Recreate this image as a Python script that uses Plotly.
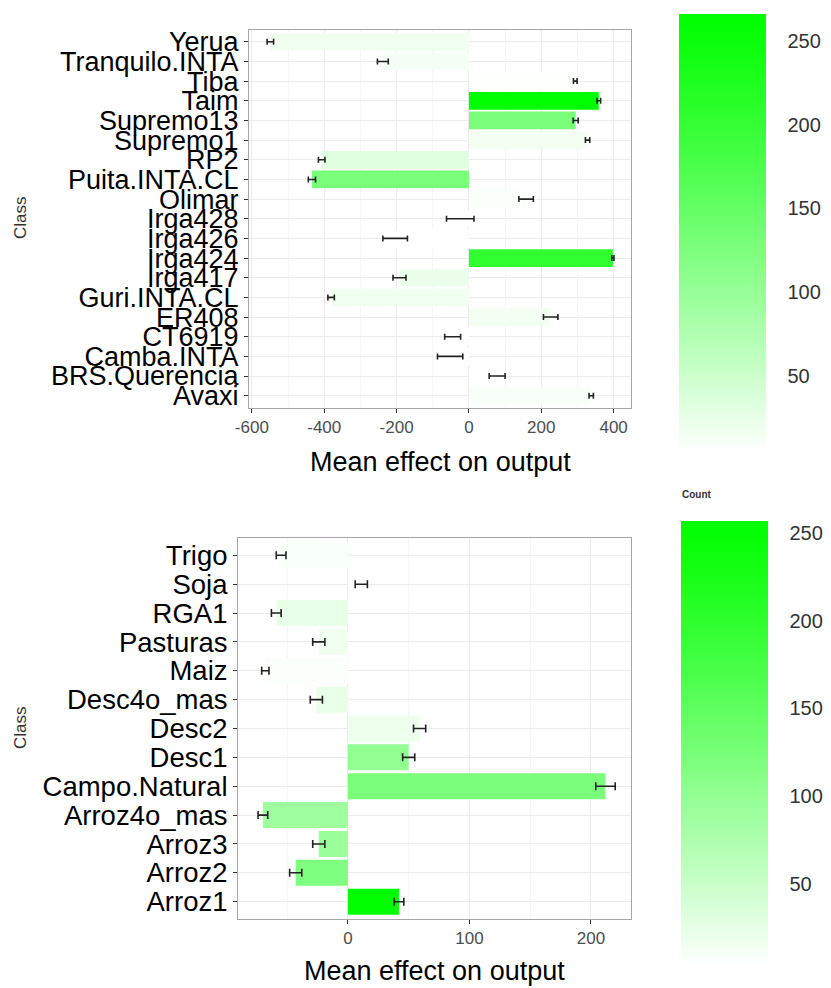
import numpy as np
import plotly.graph_objects as go

# ---------------- data ----------------
top_classes = ["Avaxi", "BRS.Querencia", "Camba.INTA", "CT6919", "ER408", "Guri.INTA.CL",
               "Irga417", "Irga424", "Irga426", "Irga428", "Olimar", "Puita.INTA.CL", "RP2",
               "Supremo1", "Supremo13", "Taim", "Tiba", "Tranquilo.INTA", "Yerua"]
top_effect = [338, 78, -52, -45, 226, -381, -192, 398, -204, -24, 158, -434, -407,
              328, 295, 359, 294, -238, -549]
top_err = [6, 22, 35, 22, 20, 9, 18, 3, 34, 38, 20, 10, 9, 6, 7, 5, 5, 15, 9]
top_count = [10, 5, 4, 4, 14, 16, 22, 205, 4, 4, 8, 128, 32, 14, 128, 266, 6, 12, 16]
top_xticks = [-600, -400, -200, 0, 200, 400]

bottom_classes = ["Arroz1", "Arroz2", "Arroz3", "Arroz4o_mas", "Campo.Natural", "Desc1",
                  "Desc2", "Desc4o_mas", "Maiz", "Pasturas", "RGA1", "Soja", "Trigo"]
bottom_effect = [42, -43, -24, -70, 212, 50, 59, -26, -68, -24, -59, 11, -55]
bottom_err = [4, 5, 5, 4, 8, 5, 5, 5, 3, 5, 4, 5, 4]
bottom_count = [257, 118, 92, 88, 122, 100, 18, 22, 6, 15, 23, 3, 8]
bottom_xticks = [0, 100, 200]

colorbar_ticks = [50, 100, 150, 200, 250]
x_title = "Mean effect on output"
y_title = "Class"
legend_title = "Count"

# ------------- colour scale: white -> green -------------
scale = []
for t in np.linspace(0, 1, 21):
    c = int(round(255 * (1 - t) ** 1.15))
    scale.append([float(t), "rgb(%d,255,%d)" % (c, c)])

W, H = 831, 988


def px(v):
    return v / W


def py(v):
    return 1 - v / H


FONT = "Liberation Sans, Arial, sans-serif"

fig = go.Figure()
fig.add_trace(go.Bar(
    x=top_effect, y=top_classes, orientation="h", width=0.9,
    marker=dict(color=top_count, coloraxis="coloraxis", line=dict(width=0)),
    error_x=dict(type="data", array=top_err, color="#222222", thickness=1.6, width=3),
    xaxis="x", yaxis="y", showlegend=False))
fig.add_trace(go.Bar(
    x=bottom_effect, y=bottom_classes, orientation="h", width=0.9,
    marker=dict(color=bottom_count, coloraxis="coloraxis2", line=dict(width=0)),
    error_x=dict(type="data", array=bottom_err, color="#222222", thickness=1.6, width=4),
    xaxis="x2", yaxis="y2", showlegend=False))

common_x = dict(showline=True, mirror=True, linecolor="#A6A6A6", linewidth=1,
                showgrid=True, gridcolor="#EBEBEB", gridwidth=1, zeroline=False,
                ticks="outside", ticklen=4, tickcolor="#333333", automargin=False,
                tickfont=dict(family=FONT, size=17, color="#4D4D4D"))
common_y = dict(showline=True, mirror=True, linecolor="#A6A6A6", linewidth=1,
                showgrid=True, gridcolor="#EBEBEB", gridwidth=1, zeroline=False,
                ticks="outside", ticklen=4, tickcolor="#333333", type="category",
                automargin=False)

cb_common = dict(tickvals=colorbar_ticks, ticks="outside", ticklen=18, tickcolor="white",
                 tickwidth=1, outlinewidth=0, xpad=0, ypad=0, xanchor="left", yanchor="top",
                 lenmode="pixels", thicknessmode="pixels",
                 tickfont=dict(family=FONT, size=20, color="#333333"))

fig.update_layout(
    width=W, height=H, margin=dict(l=0, r=0, t=0, b=0, autoexpand=False),
    paper_bgcolor="white", plot_bgcolor="white", bargap=0.1,
    xaxis=dict(domain=[px(249), px(631)], range=[-608, 448], anchor="y",
               tickmode="array", tickvals=top_xticks, ticktext=[str(v) for v in top_xticks],
               minor=dict(dtick=100, showgrid=True, gridcolor="#F5F5F5"), **common_x),
    yaxis=dict(domain=[py(407.5), py(30)], anchor="x", categoryorder="array",
               categoryarray=top_classes, tickmode="array", tickvals=top_classes,
               range=[-0.6, len(top_classes) - 0.4],
               tickfont=dict(family=FONT, size=27, color="black"), **common_y),
    xaxis2=dict(domain=[px(238), px(631)], range=[-90.5, 233], anchor="y2",
                tickmode="array", tickvals=bottom_xticks,
                ticktext=[str(v) for v in bottom_xticks],
                minor=dict(dtick=50, showgrid=True, gridcolor="#F5F5F5"), **common_x),
    yaxis2=dict(domain=[py(919), py(538)], anchor="x2", categoryorder="array",
                categoryarray=bottom_classes, tickmode="array", tickvals=bottom_classes,
                range=[-0.6, len(bottom_classes) - 0.4],
                tickfont=dict(family=FONT, size=27.5, color="black"), **common_y),
    coloraxis=dict(colorscale=scale, cmin=min(top_count), cmax=max(top_count),
                   colorbar=dict(x=px(679), y=py(14), len=439, thickness=87, **cb_common)),
    coloraxis2=dict(colorscale=scale, cmin=min(bottom_count), cmax=max(bottom_count),
                    colorbar=dict(x=px(681), y=py(521), len=445, thickness=87, **cb_common)),
)

ann_font = dict(family=FONT, size=27, color="black")
fig.add_annotation(text=x_title, x=px(440), y=py(462), xref="paper", yref="paper",
                   showarrow=False, font=ann_font, xanchor="center", yanchor="middle")
fig.add_annotation(text=x_title, x=px(434), y=py(971), xref="paper", yref="paper",
                   showarrow=False, font=ann_font, xanchor="center", yanchor="middle")
for yc in (218, 728):
    fig.add_annotation(text=y_title, x=px(20), y=py(yc), xref="paper", yref="paper",
                       showarrow=False, textangle=-90, xanchor="center", yanchor="middle",
                       font=dict(family=FONT, size=17, color="#333333"))
fig.add_annotation(text="<b>" + legend_title + "</b>", x=px(680), y=py(494), xref="paper",
                   yref="paper", showarrow=False, xanchor="left", yanchor="middle",
                   font=dict(family=FONT, size=10, color="#333333"))

fig.write_html("out.html")
